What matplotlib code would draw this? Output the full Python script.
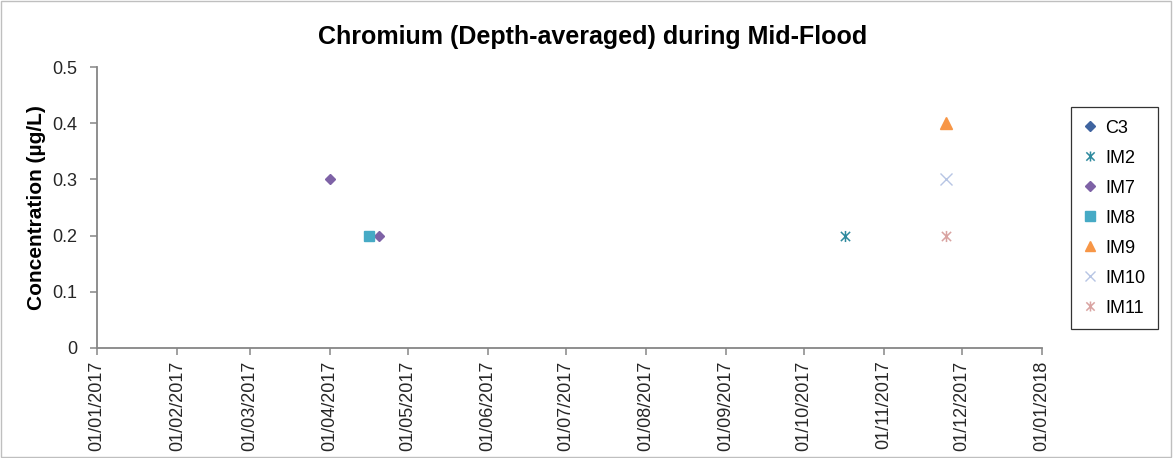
import datetime as dt
import matplotlib
matplotlib.use("Agg")
import matplotlib.pyplot as plt
import matplotlib.dates as mdates
from matplotlib.patches import Rectangle
from matplotlib.path import Path

# sampling sites and their depth-averaged Cr results (ug/L)
sites = ["C3", "IM2", "IM7", "IM8", "IM9", "IM10", "IM11"]
dates = {
    "C3": [],
    "IM2": [dt.date(2017, 10, 17)],
    "IM7": [dt.date(2017, 4, 1), dt.date(2017, 4, 20)],
    "IM8": [dt.date(2017, 4, 16)],
    "IM9": [dt.date(2017, 11, 25)],
    "IM10": [dt.date(2017, 11, 25)],
    "IM11": [dt.date(2017, 11, 25)],
}
conc = {
    "C3": [],
    "IM2": [0.2],
    "IM7": [0.3, 0.2],
    "IM8": [0.2],
    "IM9": [0.4],
    "IM10": [0.3],
    "IM11": [0.2],
}

# Excel-style star: an x with a vertical bar through it
star = Path([(-1, -1), (1, 1), (-1, 1), (1, -1), (0, -1.2), (0, 1.2)],
            [Path.MOVETO, Path.LINETO, Path.MOVETO, Path.LINETO, Path.MOVETO, Path.LINETO])

styles = {
    "C3": dict(marker="D", color="#3F64A0", ms=5.5),
    "IM2": dict(marker=star, color="#2E8A9E", ms=8, mew=1.1),
    "IM7": dict(marker="D", color="#7E62A6", ms=5.5),
    "IM8": dict(marker="s", color="#46AAC5", ms=7.5),
    "IM9": dict(marker="^", color="#F79646", ms=8),
    "IM10": dict(marker="x", color="#B7C5E4", ms=8, mew=1.0),
    "IM11": dict(marker=star, color="#D9A3A1", ms=8, mew=1.1),
}

plt.rcParams['font.family'] = ['Liberation Sans', 'DejaVu Sans']

fig = plt.figure(figsize=(11.73, 4.58), dpi=100)
ax = fig.add_axes([0.0827, 0.2402, 0.8056, 0.6135])

for s in sites:
    st = styles[s]
    ax.plot(dates[s], conc[s], linestyle="none", marker=st["marker"],
            color=st["color"], markersize=st["ms"], markeredgewidth=st.get("mew", 1.0),
            label=s)

ax.set_xlim(dt.date(2017, 1, 1), dt.date(2018, 1, 1))
ax.set_ylim(0, 0.5)
ax.set_yticks([0, 0.1, 0.2, 0.3, 0.4, 0.5])
ax.set_yticklabels(["0", "0.1", "0.2", "0.3", "0.4", "0.5"])
ax.xaxis.set_major_locator(mdates.MonthLocator())
ax.xaxis.set_major_formatter(mdates.DateFormatter("%d/%m/%Y"))

axis_grey = "#868686"
for side in ["top", "right"]:
    ax.spines[side].set_visible(False)
for side in ["left", "bottom"]:
    ax.spines[side].set_color(axis_grey)
    ax.spines[side].set_linewidth(1.3)
ax.tick_params(axis="both", colors=axis_grey, length=5, width=1.1, direction="out")
ax.tick_params(axis="y", labelcolor="#262626", labelsize=13, pad=9)
ax.tick_params(axis="x", labelcolor="#262626", labelsize=13, rotation=90, pad=4)

ax.set_ylabel("Concentration (µg/L)", fontsize=15, fontweight="bold",
              family=["Liberation Sans Narrow", "Liberation Sans"], labelpad=5)
fig.text(0.505, 0.92, "Chromium (Depth-averaged) during Mid-Flood",
         ha="center", va="center", fontsize=18, fontweight="bold",
         family=["Liberation Sans Narrow", "Liberation Sans"])

leg = ax.legend(loc="center left", bbox_to_anchor=(0.905, 0.524),
                bbox_transform=fig.transFigure, fontsize=13, frameon=True,
                fancybox=False, edgecolor="black", handlelength=0.8,
                handletextpad=0.4, labelspacing=0.72, borderpad=0.7,
                markerscale=0.9)
leg.get_frame().set_linewidth(0.9)

# thin outline around the whole chart area
fig.patches.append(Rectangle((0.001, 0.002), 0.997, 0.996, transform=fig.transFigure,
                             fill=False, edgecolor="#BFBFBF", linewidth=1.0))

fig.savefig("out.png", dpi=100)
